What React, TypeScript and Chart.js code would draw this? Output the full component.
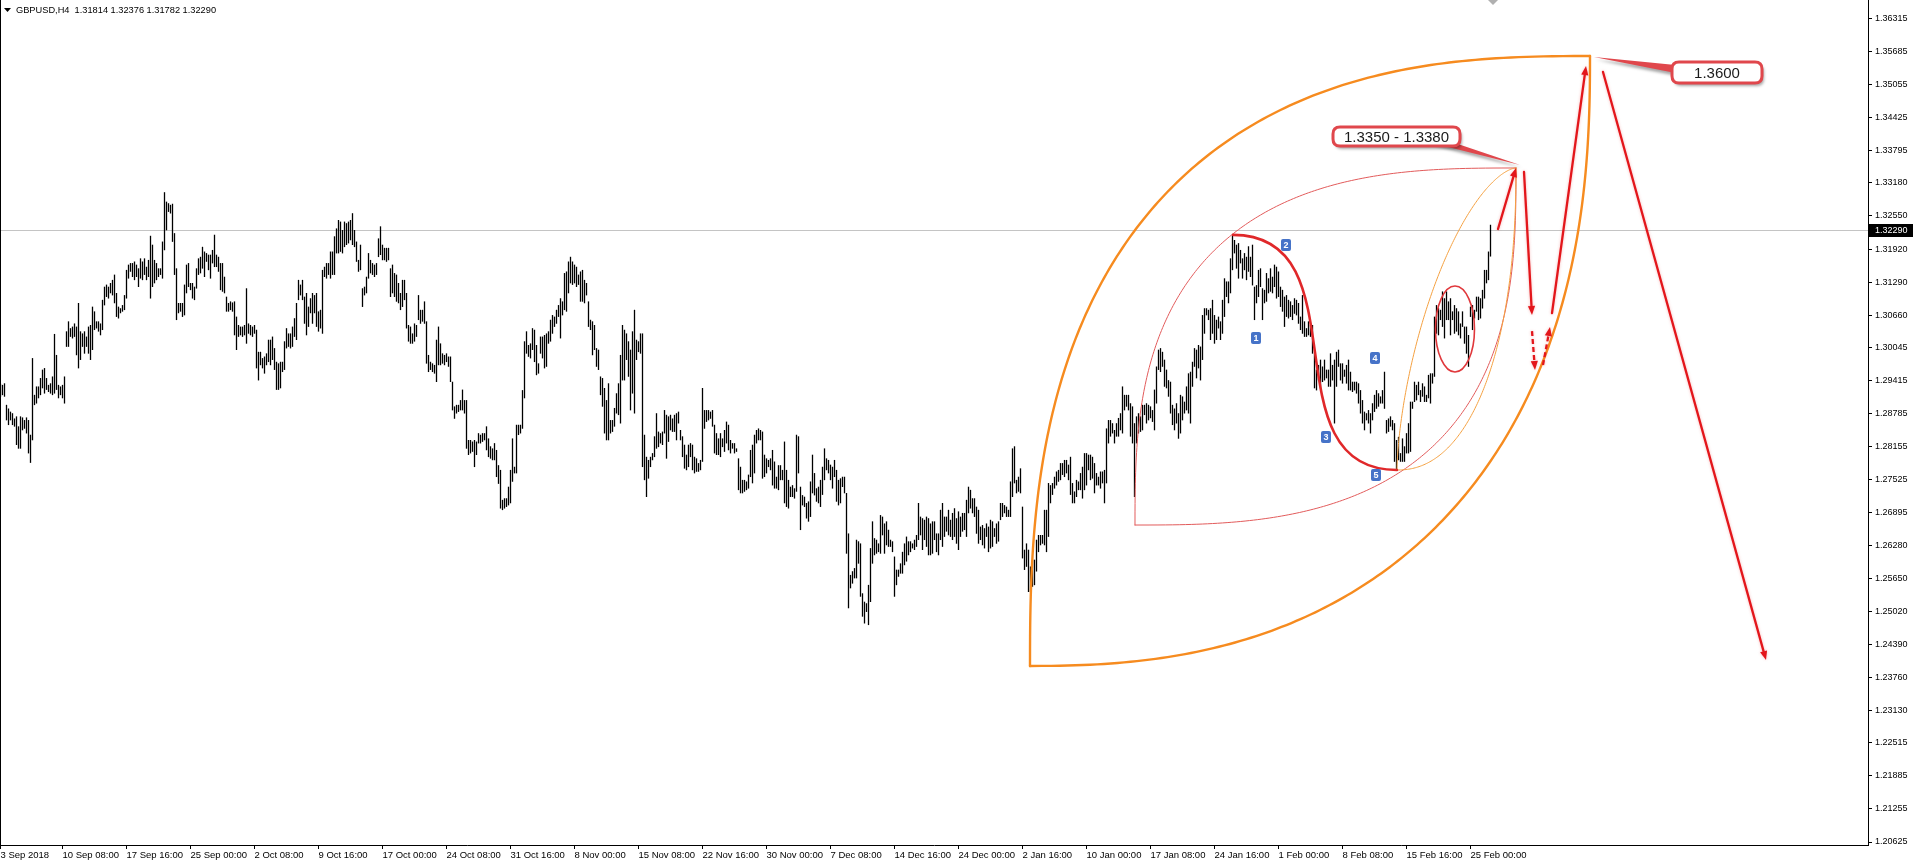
import React, { useEffect, useRef } from 'react';
import { Chart, registerables } from 'chart.js';

Chart.register(...registerables);

// ---------- header / quote ----------
const chartTitle = 'GBPUSD,H4';
const headerQuote = ['1.31814', '1.32376', '1.31782', '1.32290'];
const lastPrice = 1.3229;
const lastPriceLabel = '1.32290';

// ---------- axes ----------
const xTickBars = [1, 32, 64, 96, 128, 160, 192, 224, 256, 288, 320, 352, 384, 416, 448, 480, 512, 544, 576, 608, 640, 672, 704, 736];
const xTickLabels = ['3 Sep 2018', '10 Sep 08:00', '17 Sep 16:00', '25 Sep 00:00', '2 Oct 08:00', '9 Oct 16:00', '17 Oct 00:00', '24 Oct 08:00', '31 Oct 16:00', '8 Nov 00:00', '15 Nov 08:00', '22 Nov 16:00', '30 Nov 00:00', '7 Dec 08:00', '14 Dec 16:00', '24 Dec 00:00', '2 Jan 16:00', '10 Jan 00:00', '17 Jan 08:00', '24 Jan 16:00', '1 Feb 00:00', '8 Feb 08:00', '15 Feb 16:00', '25 Feb 00:00'];
const yTickLabels = ['1.36315', '1.35685', '1.35055', '1.34425', '1.33795', '1.33180', '1.32550', '1.31920', '1.31290', '1.30660', '1.30045', '1.29415', '1.28785', '1.28155', '1.27525', '1.26895', '1.26280', '1.25650', '1.25020', '1.24390', '1.23760', '1.23130', '1.22515', '1.21885', '1.21255', '1.20625'];
const xRange = [0.75, 934.75];
const yRange = [1.20568, 1.36664];

// ---------- H4 bars (price x 10000), bar index starts at firstBar ----------
const firstBar = 1;
const barHighPips = [
  12935, 12933, 12936, 12895, 12888, 12882, 12879, 12869, 12873, 12854,
  12873, 12871, 12866, 12871, 12866, 12838, 12984, 12914, 12930, 12930,
  12946, 12962, 12965, 12946, 12933, 12936, 12949, 13030, 12990, 12933,
  12930, 12933, 12949, 13035, 13054, 13041, 13044, 13050, 13044, 13089,
  13035, 13031, 13035, 13025, 13044, 13047, 13082, 13073, 13054, 13054,
  13050, 13095, 13120, 13124, 13120, 13127, 13133, 13143, 13108, 13082,
  13079, 13085, 13104, 13152, 13162, 13165, 13165, 13168, 13162, 13155,
  13174, 13168, 13174, 13158, 13171, 13217, 13200, 13171, 13165, 13155,
  13155, 13206, 13300, 13282, 13279, 13276, 13278, 13222, 13155, 13089,
  13089, 13089, 13124, 13162, 13165, 13127, 13127, 13120, 13155, 13174,
  13177, 13196, 13187, 13184, 13181, 13181, 13190, 13219, 13181, 13177,
  13165, 13165, 13139, 13101, 13089, 13092, 13090, 13092, 13063, 13047,
  13044, 13044, 13047, 13117, 13050, 13047, 13044, 13047, 13038, 12996,
  12996, 12984, 12987, 12993, 13019, 13019, 13025, 13003, 12977, 12974,
  12977, 12977, 13016, 13041, 13031, 13031, 13044, 13060, 13089, 13133,
  13124, 13133, 13101, 13108, 13082, 13098, 13108, 13104, 13108, 13073,
  13076, 13152, 13158, 13165, 13165, 13187, 13187, 13216, 13231, 13247,
  13244, 13228, 13244, 13241, 13244, 13247, 13260, 13228, 13206, 13171,
  13200, 13117, 13120, 13139, 13184, 13171, 13165, 13162, 13165, 13212,
  13235, 13200, 13194, 13194, 13194, 13155, 13162, 13146, 13143, 13127,
  13108, 13133, 13133, 13108, 13047, 13044, 13031, 13050, 13047, 13104,
  13076, 13076, 13092, 13054, 12990, 12977, 12974, 12971, 13019, 13044,
  13012, 12993, 12990, 12993, 12987, 12987, 12939, 12892, 12895, 12895,
  12904, 12924, 12904, 12904, 12828, 12828, 12825, 12828, 12825, 12841,
  12838, 12841, 12841, 12854, 12831, 12816, 12812, 12822, 12809, 12780,
  12771, 12714, 12717, 12717, 12739, 12771, 12831, 12777, 12857, 12857,
  12857, 12923, 13016, 13035, 13009, 13012, 13041, 13038, 13009, 12974,
  13025, 13025, 13028, 13031, 13035, 13057, 13066, 13063, 13076, 13085,
  13098, 13092, 13146, 13149, 13168, 13177, 13168, 13162, 13158, 13143,
  13149, 13152, 13133, 13127, 13092, 13057, 13054, 13047, 13003, 13000,
  12949, 12946, 12927, 12904, 12936, 12866, 12866, 12889, 12917, 12936,
  12990, 13047, 13038, 13031, 13016, 13000, 13035, 13076, 13019, 13016,
  13031, 13031, 12838, 12796, 12790, 12796, 12803, 12835, 12879, 12844,
  12841, 12844, 12885, 12876, 12873, 12876, 12869, 12876, 12879, 12882,
  12847, 12835, 12819, 12800, 12819, 12822, 12819, 12796, 12793, 12784,
  12790, 12927, 12885, 12885, 12885, 12882, 12885, 12857, 12841, 12831,
  12841, 12831, 12847, 12863, 12857, 12828, 12822, 12822, 12812, 12793,
  12777, 12752, 12752, 12749, 12762, 12809, 12819, 12838, 12847, 12850,
  12847, 12844, 12800, 12793, 12790, 12793, 12809, 12787, 12758, 12780,
  12780, 12771, 12825, 12771, 12752, 12739, 12742, 12736, 12838, 12835,
  12739, 12723, 12720, 12708, 12711, 12749, 12800, 12765, 12736, 12739,
  12752, 12777, 12812, 12793, 12790, 12781, 12777, 12790, 12771, 12752,
  12755, 12758, 12758, 12727, 12650, 12571, 12578, 12584, 12638, 12635,
  12631, 12536, 12520, 12517, 12552, 12622, 12673, 12641, 12638, 12631,
  12685, 12682, 12669, 12673, 12657, 12638, 12635, 12606, 12581, 12581,
  12593, 12615, 12631, 12644, 12635, 12635, 12631, 12638, 12647, 12708,
  12682, 12679, 12676, 12682, 12679, 12669, 12673, 12673, 12650, 12650,
  12695, 12708, 12682, 12682, 12695, 12676, 12689, 12698, 12679, 12692,
  12682, 12689, 12689, 12714, 12739, 12733, 12717, 12717, 12701, 12695,
  12663, 12666, 12660, 12669, 12663, 12676, 12673, 12660, 12669, 12673,
  12708, 12708, 12704, 12701, 12695, 12749, 12812, 12816, 12752, 12758,
  12774, 12701, 12619, 12631, 12619, 12587, 12600, 12600, 12638, 12647,
  12647, 12647, 12695, 12695, 12746, 12742, 12746, 12758, 12768, 12771,
  12784, 12784, 12790, 12790, 12781, 12796, 12746, 12730, 12752, 12749,
  12765, 12777, 12803, 12803, 12800, 12800, 12796, 12784, 12765, 12758,
  12768, 12768, 12771, 12850, 12866, 12866, 12860, 12847, 12860, 12870,
  12879, 12930, 12914, 12914, 12914, 12898, 12892, 12860, 12873, 12879,
  12873, 12895, 12895, 12898, 12895, 12892, 12885, 12924, 12968, 13000,
  13003, 12996, 12981, 12962, 12942, 12939, 12895, 12888, 12898, 12879,
  12914, 12911, 12901, 12930, 12955, 12958, 12977, 13003, 13000, 13009,
  13006, 13066, 13079, 13079, 13076, 13079, 13095, 13066, 13057, 13063,
  13054, 13095, 13136, 13130, 13130, 13174, 13219, 13209, 13200, 13203,
  13190, 13174, 13184, 13177, 13197, 13177, 13200, 13120, 13123, 13152,
  13155, 13117, 13114, 13146, 13136, 13155, 13139, 13162, 13158, 13149,
  13120, 13114, 13101, 13104, 13095, 13092, 13085, 13098, 13095, 13089,
  13063, 13104, 13054, 13041, 13054, 13047, 13047, 12993, 12962, 12971,
  12981, 12968, 12981, 12962, 12962, 12993, 12971, 12981, 12996, 13000,
  12974, 12974, 12962, 12971, 12981, 12958, 12939, 12939, 12939, 12936,
  12923, 12904, 12882, 12879, 12885, 12879, 12898, 12914, 12923, 12917,
  12911, 12923, 12958, 12866, 12869, 12873, 12866, 12860, 12828, 12834,
  12803, 12831, 12816, 12841, 12860, 12901, 12901, 12939, 12933, 12939,
  12923, 12936, 12930, 12914, 12952, 12955, 12955, 13063, 13085, 13079,
  13076, 13111, 13098, 13111, 13092, 13098, 13073, 13085, 13079, 13073,
  13050, 13073, 13044, 13044, 13028, 13082, 13085, 13076, 13101, 13101,
  13098, 13114, 13152, 13152, 13187, 13238,
];
const barLowPips = [
  12911, 12914, 12911, 12866, 12857, 12866, 12857, 12854, 12819, 12812,
  12812, 12847, 12850, 12841, 12803, 12785, 12828, 12895, 12898, 12908,
  12914, 12927, 12917, 12924, 12920, 12917, 12914, 12917, 12924, 12908,
  12914, 12908, 12898, 13006, 13006, 13025, 13022, 13025, 12990, 12965,
  12981, 13006, 12993, 13006, 12993, 12981, 13000, 13038, 13041, 13035,
  13028, 13038, 13085, 13101, 13098, 13108, 13104, 13089, 13063, 13060,
  13070, 13073, 13076, 13098, 13136, 13149, 13139, 13133, 13139, 13120,
  13136, 13133, 13143, 13133, 13139, 13098, 13120, 13127, 13133, 13139,
  13143, 13136, 13190, 13228, 13263, 13260, 13206, 13143, 13057, 13070,
  13073, 13063, 13066, 13108, 13120, 13114, 13098, 13095, 13117, 13143,
  13146, 13155, 13139, 13168, 13152, 13136, 13165, 13158, 13158, 13149,
  13114, 13111, 13108, 13073, 13073, 13076, 13073, 13028, 13000, 13025,
  13028, 13025, 13028, 13012, 13031, 13028, 13025, 13031, 12965, 12942,
  12971, 12965, 12955, 12971, 12977, 12971, 12981, 12962, 12924, 12924,
  12927, 12958, 12962, 13003, 13006, 13003, 13006, 13025, 13019, 13095,
  13104, 13095, 13050, 13028, 13044, 13070, 13050, 13070, 13044, 13035,
  13041, 13031, 13139, 13136, 13143, 13136, 13143, 13143, 13184, 13184,
  13187, 13184, 13196, 13200, 13203, 13209, 13200, 13196, 13168, 13149,
  13152, 13082, 13104, 13108, 13136, 13146, 13143, 13139, 13143, 13177,
  13181, 13171, 13171, 13168, 13171, 13101, 13108, 13101, 13092, 13089,
  13076, 13082, 13095, 13041, 13016, 13012, 13012, 13016, 13025, 13057,
  13050, 13054, 13050, 12974, 12958, 12962, 12958, 12955, 12939, 12971,
  12971, 12974, 12971, 12977, 12968, 12939, 12885, 12869, 12879, 12882,
  12885, 12885, 12879, 12812, 12800, 12803, 12806, 12777, 12800, 12822,
  12822, 12825, 12828, 12809, 12796, 12793, 12790, 12790, 12758, 12745,
  12698, 12695, 12698, 12701, 12704, 12708, 12749, 12765, 12765, 12838,
  12841, 12850, 12908, 12993, 12987, 12984, 13000, 12977, 12952, 12955,
  12993, 12984, 12965, 12968, 13012, 13016, 13031, 13044, 13050, 13063,
  13022, 13066, 13076, 13073, 13108, 13127, 13124, 13127, 13120, 13124,
  13092, 13092, 13089, 13104, 13044, 13038, 12990, 13000, 12968, 12962,
  12914, 12892, 12841, 12828, 12828, 12841, 12844, 12854, 12879, 12876,
  12860, 12942, 12942, 12981, 12949, 12885, 12917, 12879, 12981, 12996,
  12993, 12777, 12752, 12720, 12755, 12777, 12790, 12796, 12812, 12815,
  12822, 12819, 12841, 12793, 12825, 12847, 12844, 12844, 12828, 12860,
  12828, 12796, 12774, 12771, 12777, 12796, 12771, 12765, 12768, 12768,
  12771, 12787, 12850, 12863, 12866, 12869, 12854, 12803, 12800, 12800,
  12796, 12815, 12806, 12822, 12809, 12803, 12812, 12803, 12806, 12733,
  12727, 12727, 12730, 12733, 12736, 12758, 12746, 12765, 12822, 12828,
  12828, 12755, 12758, 12765, 12777, 12771, 12742, 12736, 12736, 12733,
  12752, 12752, 12708, 12701, 12698, 12720, 12720, 12717, 12730, 12765,
  12657, 12704, 12701, 12679, 12673, 12682, 12727, 12723, 12711, 12708,
  12701, 12724, 12752, 12771, 12765, 12752, 12736, 12758, 12711, 12704,
  12708, 12739, 12727, 12612, 12508, 12546, 12555, 12565, 12565, 12593,
  12530, 12492, 12479, 12501, 12476, 12520, 12593, 12609, 12612, 12615,
  12612, 12647, 12612, 12628, 12625, 12625, 12615, 12530, 12552, 12568,
  12574, 12574, 12590, 12597, 12609, 12615, 12622, 12619, 12625, 12638,
  12647, 12619, 12638, 12625, 12609, 12609, 12612, 12638, 12615, 12609,
  12638, 12625, 12644, 12654, 12647, 12644, 12638, 12644, 12631, 12619,
  12644, 12654, 12657, 12644, 12689, 12698, 12689, 12682, 12650, 12631,
  12638, 12628, 12622, 12644, 12615, 12622, 12625, 12644, 12631, 12635,
  12676, 12682, 12689, 12682, 12682, 12682, 12720, 12746, 12727, 12730,
  12727, 12603, 12581, 12587, 12539, 12539, 12549, 12552, 12578, 12615,
  12628, 12631, 12628, 12615, 12644, 12708, 12724, 12736, 12742, 12749,
  12752, 12762, 12758, 12765, 12752, 12724, 12708, 12708, 12720, 12733,
  12733, 12717, 12733, 12742, 12771, 12752, 12755, 12727, 12742, 12742,
  12736, 12746, 12708, 12746, 12822, 12835, 12841, 12822, 12835, 12835,
  12847, 12841, 12885, 12892, 12885, 12835, 12822, 12720, 12822, 12841,
  12844, 12847, 12876, 12860, 12866, 12870, 12863, 12847, 12898, 12962,
  12958, 12968, 12930, 12927, 12911, 12879, 12857, 12847, 12860, 12831,
  12841, 12866, 12879, 12885, 12879, 12860, 12930, 12968, 12946, 12965,
  12942, 12981, 13031, 13066, 13057, 13019, 13031, 13012, 13019, 13041,
  13019, 13031, 13063, 13101, 13089, 13108, 13152, 13184, 13155, 13136,
  13165, 13136, 13152, 13133, 13149, 13139, 13123, 13057, 13089, 13101,
  13120, 13057, 13089, 13092, 13108, 13111, 13108, 13120, 13098, 13101,
  13082, 13073, 13044, 13063, 13060, 13063, 13057, 13069, 13066, 13050,
  13038, 13031, 13025, 13025, 13028, 13025, 12993, 12927, 12923, 12942,
  12927, 12939, 12942, 12946, 12930, 12930, 12942, 12860, 12930, 12968,
  12942, 12936, 12949, 12936, 12923, 12923, 12920, 12923, 12917, 12898,
  12879, 12860, 12847, 12866, 12860, 12841, 12866, 12882, 12888, 12892,
  12898, 12898, 12888, 12841, 12844, 12854, 12847, 12787, 12771, 12790,
  12787, 12787, 12787, 12803, 12803, 12806, 12888, 12901, 12904, 12914,
  12901, 12911, 12901, 12901, 12908, 12898, 12936, 12949, 13031, 13028,
  13057, 13044, 13022, 13057, 13057, 13028, 13057, 13031, 13035, 13028,
  13022, 13044, 13012, 12993, 12968, 13063, 13038, 13060, 13073, 13057,
  13060, 13079, 13098, 13127, 13133, 13178,
];

// ---------- drawn objects (anchors in bar index / price) ----------
const leafArcs = [
  { from: [515.75, 1.23979], to: [795.75, 1.35597], side: 'upper', power: 2.6, look: 'orangeThick' },
  { from: [515.75, 1.23979], to: [795.75, 1.35597], side: 'lower', power: 2.4, look: 'orangeThick' },
  { from: [568.25, 1.26663], to: [758.75, 1.33464], side: 'upper', power: 2.8, look: 'redThin' },
  { from: [568.25, 1.26663], to: [758.75, 1.33464], side: 'lower', power: 2.8, look: 'redThin' },
  { from: [699.25, 1.27711], to: [758.75, 1.33464], side: 'upper', power: 1.6, look: 'orangeThin' },
  { from: [699.25, 1.27711], to: [758.75, 1.33464], side: 'lower', power: 2.2, look: 'orangeThin' },
];
const waveCurve = { from: [617.25, 1.3219], to: [699.25, 1.27711], bulge: 0.8 };
const consolidation = { center: [728.25, 1.30397], halfBars: 9.75, halfPrice: 0.0082 };
const waveLabels = [
  { text: '1', at: [628.75, 1.30225] },
  { text: '2', at: [643.75, 1.31996] },
  { text: '3', at: [663.75, 1.28339] },
  { text: '4', at: [688.25, 1.29844] },
  { text: '5', at: [688.75, 1.27615] },
];
const arrows = [
  { from: [749.75, 1.32302], to: [758.75, 1.33464], dashed: false },
  { from: [762.75, 1.33388], to: [766.75, 1.30663], dashed: false },
  { from: [766.75, 1.30358], to: [768.25, 1.29616], dashed: true },
  { from: [772.25, 1.29711], to: [775.75, 1.30435], dashed: true },
  { from: [776.75, 1.30701], to: [793.75, 1.35407], dashed: false },
  { from: [802.25, 1.35293], to: [883.75, 1.24091], dashed: false },
];
const callouts = [
  { text: '1.3600', box: [836.75, 1.35483, 881.75, 1.35083], tip: [797.75, 1.35578], tail: 'left' },
  { text: '1.3350 - 1.3380', box: [667.25, 1.34245, 730.75, 1.33883], tip: [760.75, 1.33521], tail: 'bottom' },
];

const LOOKS: Record<string, { color: string; width: number }> = {
  orangeThick: { color: '#F68B1F', width: 2.4 },
  orangeThin: { color: '#F4A040', width: 1 },
  redThin: { color: '#E25B5B', width: 1 },
};
const FONT = '"Liberation Sans", Arial, sans-serif';
const RED = '#E3161B';

function roundRectPath(ctx: CanvasRenderingContext2D, x: number, y: number, w: number, h: number, r: number) {
  ctx.beginPath();
  ctx.moveTo(x + r, y);
  ctx.lineTo(x + w - r, y);
  ctx.quadraticCurveTo(x + w, y, x + w, y + r);
  ctx.lineTo(x + w, y + h - r);
  ctx.quadraticCurveTo(x + w, y + h, x + w - r, y + h);
  ctx.lineTo(x + r, y + h);
  ctx.quadraticCurveTo(x, y + h, x, y + h - r);
  ctx.lineTo(x, y + r);
  ctx.quadraticCurveTo(x, y, x + r, y);
  ctx.closePath();
}

const overlayPlugin = {
  id: 'mt4Overlay',
  beforeDatasetsDraw(chart: any) {
    const { ctx, chartArea: a, scales } = chart;
    const yy = Math.round(scales.y.getPixelForValue(lastPrice)) + 0.5;
    ctx.save();
    ctx.strokeStyle = '#C4C4C4';
    ctx.lineWidth = 1;
    ctx.beginPath();
    ctx.moveTo(a.left, yy);
    ctx.lineTo(a.right, yy);
    ctx.stroke();
    ctx.restore();
  },
  afterDatasetsDraw(chart: any) {
    const { ctx, scales } = chart;
    const X = (v: number) => scales.x.getPixelForValue(v);
    const Y = (v: number) => scales.y.getPixelForValue(v);
    ctx.save();
    ctx.lineCap = 'round';
    ctx.lineJoin = 'round';

    // quarter super-ellipse arcs between two anchors
    leafArcs.forEach((arc) => {
      const x0 = X(arc.from[0]), y0 = Y(arc.from[1]);
      const x3 = X(arc.to[0]), y3 = Y(arc.to[1]);
      const w = x3 - x0, h = y0 - y3;
      const e = 2 / arc.power;
      const look = LOOKS[arc.look];
      ctx.strokeStyle = look.color;
      ctx.lineWidth = look.width;
      ctx.beginPath();
      const N = 160;
      for (let i = 0; i <= N; i++) {
        const th = (i / N) * (Math.PI / 2);
        const c = Math.pow(Math.max(Math.cos(th), 0), e);
        const s = Math.pow(Math.max(Math.sin(th), 0), e);
        const px = arc.side === 'upper' ? x3 - w * c : x0 + w * s;
        const py = arc.side === 'upper' ? y0 - h * s : y3 + h * c;
        if (i === 0) ctx.moveTo(px, py);
        else ctx.lineTo(px, py);
      }
      ctx.stroke();
    });

    {
      const x0 = X(waveCurve.from[0]), y0 = Y(waveCurve.from[1]);
      const x3 = X(waveCurve.to[0]), y3 = Y(waveCurve.to[1]);
      const d = (x3 - x0) * waveCurve.bulge;
      ctx.strokeStyle = '#E0282A';
      ctx.lineWidth = 2.6;
      ctx.beginPath();
      ctx.moveTo(x0, y0);
      ctx.bezierCurveTo(x0 + d, y0, x3 - d, y3, x3, y3);
      ctx.stroke();
    }

    {
      const cx = X(consolidation.center[0]);
      const cy = Y(consolidation.center[1]);
      const rx = X(consolidation.center[0] + consolidation.halfBars) - cx;
      const ry = Y(consolidation.center[1] - consolidation.halfPrice) - cy;
      ctx.strokeStyle = '#E0383C';
      ctx.lineWidth = 1.6;
      ctx.beginPath();
      ctx.ellipse(cx, cy, rx, ry, 0, 0, Math.PI * 2);
      ctx.stroke();
    }

    arrows.forEach((ar) => {
      const x0 = X(ar.from[0]), y0 = Y(ar.from[1]);
      const x1 = X(ar.to[0]), y1 = Y(ar.to[1]);
      const ang = Math.atan2(y1 - y0, x1 - x0);
      const head = 9, hw = 3.6;
      const bx = x1 - head * Math.cos(ang), by = y1 - head * Math.sin(ang);
      ctx.strokeStyle = RED;
      ctx.fillStyle = RED;
      ctx.lineWidth = 2.3;
      ctx.shadowColor = 'rgba(230,60,60,0.35)';
      ctx.shadowBlur = 3;
      ctx.setLineDash(ar.dashed ? [5, 3] : []);
      ctx.lineCap = ar.dashed ? 'butt' : 'round';
      ctx.beginPath();
      ctx.moveTo(x0, y0);
      ctx.lineTo(bx, by);
      ctx.stroke();
      ctx.setLineDash([]);
      ctx.beginPath();
      ctx.moveTo(x1, y1);
      ctx.lineTo(bx + hw * Math.sin(ang), by - hw * Math.cos(ang));
      ctx.lineTo(bx - hw * Math.sin(ang), by + hw * Math.cos(ang));
      ctx.closePath();
      ctx.fill();
      ctx.shadowColor = 'transparent';
      ctx.shadowBlur = 0;
    });
    ctx.lineCap = 'round';

    waveLabels.forEach((lb) => {
      const cx = X(lb.at[0]), cy = Y(lb.at[1]);
      ctx.fillStyle = '#4673C8';
      roundRectPath(ctx, Math.round(cx - 5), Math.round(cy - 6), 10, 12, 2);
      ctx.fill();
      ctx.fillStyle = '#fff';
      ctx.font = `bold 9px ${FONT}`;
      ctx.textAlign = 'center';
      ctx.textBaseline = 'middle';
      ctx.fillText(lb.text, Math.round(cx), Math.round(cy) + 0.5);
    });

    callouts.forEach((c) => {
      const l = X(c.box[0]), t = Y(c.box[1]), r = X(c.box[2]), b = Y(c.box[3]);
      const tx = X(c.tip[0]), ty = Y(c.tip[1]);
      const w = r - l, h = b - t;
      let b1: number[], b2: number[];
      if (c.tail === 'left') { b1 = [l + 6, t + h * 0.15]; b2 = [l + 6, t + h * 0.55]; }
      else { b1 = [l + w * 0.78, b - 3]; b2 = [l + w * 0.96, b - 3]; }
      ctx.save();
      ctx.shadowColor = 'rgba(0,0,0,0.35)';
      ctx.shadowOffsetX = 2;
      ctx.shadowOffsetY = 3;
      ctx.shadowBlur = 3;
      ctx.fillStyle = '#E0474C';
      ctx.beginPath();
      ctx.moveTo(b1[0], b1[1]);
      ctx.lineTo(tx, ty);
      ctx.lineTo(b2[0], b2[1]);
      ctx.closePath();
      ctx.fill();
      roundRectPath(ctx, l, t, w, h, 7);
      ctx.fillStyle = '#fff';
      ctx.fill();
      ctx.restore();
      roundRectPath(ctx, l, t, w, h, 7);
      ctx.lineWidth = 3;
      ctx.strokeStyle = '#E0474C';
      ctx.stroke();
      ctx.fillStyle = '#1b1b1b';
      ctx.font = `15px ${FONT}`;
      ctx.textAlign = 'center';
      ctx.textBaseline = 'middle';
      ctx.fillText(c.text, (l + r) / 2, (t + b) / 2 + 1);
    });
    ctx.restore();
  },
  afterDraw(chart: any) {
    const { ctx, chartArea: a, scales } = chart;
    ctx.save();
    ctx.fillStyle = '#000';
    ctx.fillRect(0, 0, 1, a.bottom + 1);
    ctx.beginPath();
    ctx.moveTo(4, 8);
    ctx.lineTo(11, 8);
    ctx.lineTo(7.5, 12);
    ctx.closePath();
    ctx.fill();
    ctx.font = `9.25px ${FONT}`;
    ctx.textAlign = 'left';
    ctx.textBaseline = 'middle';
    ctx.fillText(`${chartTitle}  ${headerQuote.join(' ')}`, 16, 10.5);
    ctx.fillStyle = '#B0B0B0';
    ctx.beginPath();
    ctx.moveTo(1488, 0);
    ctx.lineTo(1498, 0);
    ctx.lineTo(1493, 5);
    ctx.closePath();
    ctx.fill();
    const yy = Math.round(scales.y.getPixelForValue(lastPrice));
    ctx.fillStyle = '#000';
    ctx.fillRect(a.right + 1, yy - 6, 44, 13);
    ctx.fillStyle = '#fff';
    ctx.font = `9px ${FONT}`;
    ctx.fillText(lastPriceLabel, a.right + 7, yy + 0.5);
    ctx.restore();
  },
};

export default function App() {
  const ref = useRef<HTMLCanvasElement>(null);
  useEffect(() => {
    document.body.style.margin = '0';
    const canvas = ref.current as HTMLCanvasElement;
    const bars = barHighPips.map((h, i) => ({ x: firstBar + i, y: [barLowPips[i] / 10000, h / 10000] }));
    const yAsc = [...yTickLabels].reverse();
    const chart = new Chart(canvas, {
      type: 'bar',
      data: {
        datasets: [
          {
            data: bars as any,
            backgroundColor: '#000',
            borderWidth: 0,
            barThickness: 1,
            inflateAmount: 0.15,
            grouped: false,
          } as any,
        ],
      },
      options: {
        animation: false,
        responsive: false,
        maintainAspectRatio: false,
        devicePixelRatio: 1,
        events: [],
        layout: { padding: 0 },
        plugins: { legend: { display: false }, tooltip: { enabled: false } },
        scales: {
          x: {
            type: 'linear',
            position: 'bottom',
            min: xRange[0],
            max: xRange[1],
            offset: false,
            grid: { display: true, drawOnChartArea: false, drawTicks: true, tickLength: 4, tickColor: '#000', offset: false },
            border: { display: true, color: '#000', width: 1 },
            ticks: {
              align: 'start',
              padding: 1,
              maxRotation: 0,
              minRotation: 0,
              autoSkip: false,
              color: '#000',
              font: { family: FONT, size: 9.5 },
              callback: (_v: any, i: number) => xTickLabels[i],
            },
            afterBuildTicks: (s: any) => { s.ticks = xTickBars.map((v) => ({ value: v })); },
            afterFit: (s: any) => { s.height = 19; s.paddingLeft = 0; s.paddingRight = 0; },
          },
          y: {
            type: 'linear',
            position: 'right',
            min: yRange[0],
            max: yRange[1],
            beginAtZero: false,
            grid: { display: true, drawOnChartArea: false, drawTicks: true, tickLength: 4, tickColor: '#000' },
            border: { display: true, color: '#000', width: 1 },
            ticks: {
              padding: 3,
              autoSkip: false,
              color: '#000',
              font: { family: FONT, size: 9 },
              callback: (_v: any, i: number) => yAsc[i],
            },
            afterBuildTicks: (s: any) => { s.ticks = yAsc.map((l) => ({ value: parseFloat(l) })); },
            afterFit: (s: any) => { s.width = 48; s.paddingTop = 0; s.paddingBottom = 0; },
          },
        },
      } as any,
      plugins: [overlayPlugin as any],
    });
    return () => chart.destroy();
  }, []);
  return (
    <div style={{ position: 'absolute', left: 0, top: 0, width: 1916, height: 864, background: '#fff' }}>
      <canvas ref={ref} width={1916} height={864} style={{ display: 'block', width: '1916px', height: '864px' }} />
    </div>
  );
}
